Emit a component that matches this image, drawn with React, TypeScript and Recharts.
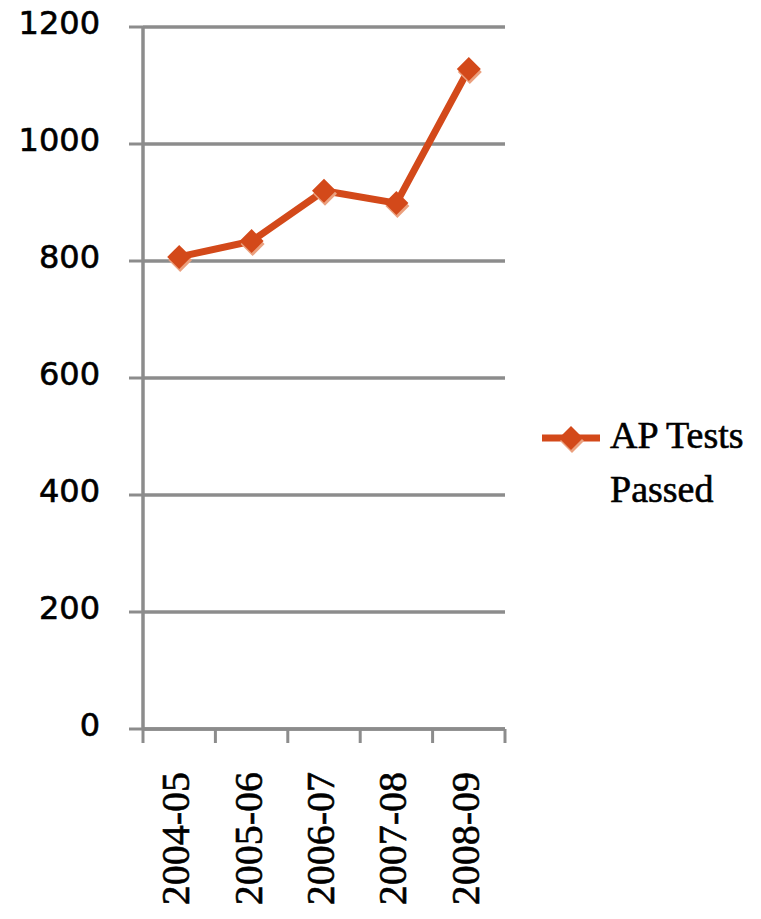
import { CartesianGrid, Legend, Line, LineChart, XAxis, YAxis } from "recharts";

const years = ["2004-05", "2005-06", "2006-07", "2007-08", "2008-09"];
const passed = [807, 834, 920, 899, 1128];
const yTicks = [0, 200, 400, 600, 800, 1000, 1200];

const data = years.map((year, i) => ({ year, passed: passed[i] }));

const ORANGE = "#D3491A";
const SHADOW = "#EBA07E";
const GRAY = "#8C8C8C";
const BAND = 362 / years.length;

function Diamond({ cx, cy }: { cx?: number; cy?: number }) {
  if (cx == null || cy == null) return null;
  const r = 12;
  const pts = (dx: number, dy: number) =>
    `${cx + dx},${cy + dy - r} ${cx + dx + r},${cy + dy} ${cx + dx},${cy + dy + r} ${cx + dx - r},${cy + dy}`;
  return (
    <g>
      <polygon points={pts(1, 3)} fill={SHADOW} />
      <polygon points={pts(0, 0)} fill={ORANGE} />
    </g>
  );
}

// tick y arrives offset by default tickSize + tickMargin (8px) below the axis line
function YearTick({ x, y, payload, index }: any) {
  const axisY = y - 8;
  const left = x - BAND / 2;
  return (
    <g>
      <line x1={left} y1={axisY} x2={left} y2={axisY + 14} stroke={GRAY} strokeWidth={3} />
      {index === years.length - 1 && (
        <line x1={x + BAND / 2} y1={axisY} x2={x + BAND / 2} y2={axisY + 14} stroke={GRAY} strokeWidth={3} />
      )}
      <text
        x={x + 10}
        y={axisY + 43}
        transform={`rotate(-90, ${x + 10}, ${axisY + 43})`}
        textAnchor="end"
        fontFamily="'Liberation Serif', serif"
        fontSize={40}
        fill="#000"
        stroke="#000"
        strokeWidth={0.6}
      >
        {payload.value}
      </text>
    </g>
  );
}

function LegendBox() {
  return (
    <div style={{ display: "flex", alignItems: "flex-start" }}>
      <svg width={64} height={54}>
        <line x1={2} y1={30} x2={60} y2={30} stroke={ORANGE} strokeWidth={7} />
        <Diamond cx={31} cy={30} />
      </svg>
      <div
        style={{
          marginLeft: 6,
          width: 150,
          textAlign: "left",
          fontFamily: "'Liberation Serif', serif",
          fontSize: 38,
          lineHeight: "54px",
          color: "#000",
          WebkitTextStroke: "0.6px #000",
        }}
      >
        AP Tests Passed
      </div>
    </div>
  );
}

export default function App() {
  return (
    <div style={{ position: "absolute", left: 0, top: 0, background: "#fff" }}>
      <LineChart width={761} height={919} data={data} margin={{ top: 27, right: 256, left: 0, bottom: 0 }}>
        <CartesianGrid vertical={false} stroke={GRAY} strokeWidth={3.5} />
        <XAxis
          dataKey="year"
          height={190}
          interval={0}
          padding={{ left: BAND / 2, right: BAND / 2 }}
          tickLine={false}
          axisLine={{ stroke: GRAY, strokeWidth: 3.5 }}
          tick={<YearTick />}
        />
        <YAxis
          width={143}
          domain={[0, 1200]}
          ticks={yTicks}
          interval={0}
          tickSize={14}
          tickMargin={29}
          tickLine={{ stroke: GRAY, strokeWidth: 3 }}
          axisLine={{ stroke: GRAY, strokeWidth: 3.5 }}
          tick={{
            fill: "#000",
            stroke: "#000",
            strokeWidth: 0.6,
            fontSize: 32,
            fontFamily: "'DejaVu Sans', sans-serif",
            dy: -4,
          }}
        />
        <Legend
          layout="horizontal"
          align="center"
          verticalAlign="middle"
          content={<LegendBox />}
          wrapperStyle={{ position: "absolute", left: 540, top: 408, width: 230 }}
        />
        <Line
          dataKey="passed"
          name="AP Tests Passed"
          stroke={ORANGE}
          strokeWidth={7}
          dot={<Diamond />}
          activeDot={false}
          isAnimationActive={false}
        />
      </LineChart>
    </div>
  );
}
